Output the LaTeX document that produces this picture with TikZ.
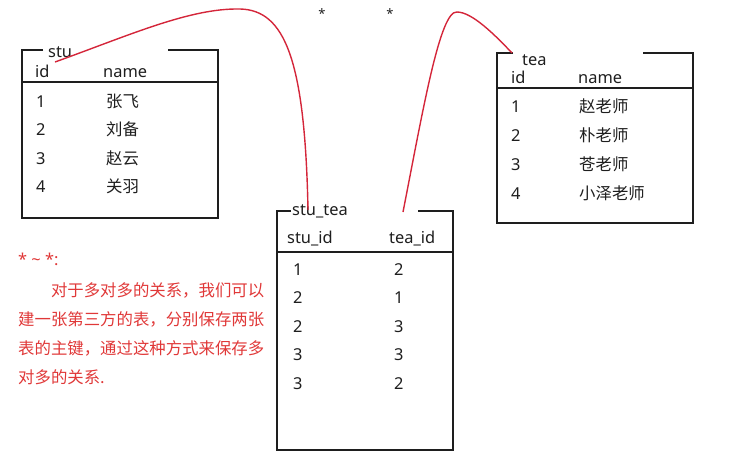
\documentclass[tikz,border=0pt]{standalone}
\usepackage{fontspec}
\setmainfont{Noto Sans}
\newfontfamily\cjk{Noto Sans CJK SC}
\usetikzlibrary{positioning,calc}
\definecolor{linkred}{RGB}{212,38,58}
\definecolor{notered}{RGB}{224,56,56}
\definecolor{ink}{RGB}{30,30,30}

\begin{document}
\begin{tikzpicture}[x=1pt,y=-1pt,
        every node/.style={inner sep=0pt, text=ink,
            font=\fontsize{16.4}{19}\selectfont},
        cell/.style={anchor=base west},
        frame/.style={draw=ink, line width=2pt, line join=miter},
        rule/.style={draw=ink, line width=2pt},
        link/.style={draw=linkred, line width=1.4pt},
        note/.style={text=notered, anchor=base west},
        star/.style={font=\fontsize{13}{15}\selectfont},
    ]
    \useasboundingbox (0,0) rectangle (733,464);

    % stu
    \node[cell] (stu) at (48,57) {stu};
    \draw[frame] (43,50) -- (22,50) -- (22,218) -- (218,218) -- (218,50) -- (168,50);
    \node[cell] (stu-id) at (35,77) {id};
    \node[cell] (stu-name) at (103,77) {name};
    \draw[rule] (22,82) -- (218,82);
    \foreach \n [count=\k] in {张飞,刘备,赵云,关羽} {
        \node[cell] (stu-id-\k) at (36,78.5+28.6*\k) {\k};
        \node[cell] (stu-name-\k) at (106,78.5+28.6*\k) {\cjk \n};
    }

    % tea
    \node[cell] (tea) at (522,65) {tea};
    \draw[frame] (513,53) -- (497,53) -- (497,223) -- (693,223) -- (693,53) -- (643,53);
    \node[cell] (tea-id) at (511,83) {id};
    \node[cell] (tea-name) at (578,83) {name};
    \draw[rule] (497,88) -- (693,88);
    \foreach \n [count=\k] in {赵老师,朴老师,苍老师,小泽老师} {
        \node[cell] (tea-id-\k) at (511,83+29*\k) {\k};
        \node[cell] (tea-name-\k) at (579,83+29*\k) {\cjk \n};
    }

    % stu_tea
    \node[cell] (stutea) at (292,215) {stu\_tea};
    \draw[frame] (291,211) -- (277,211) -- (277,450) -- (453,450) -- (453,211) -- (418,211);
    \node[cell] (stutea-sid) at (287,243) {stu\_id};
    \node[cell] (stutea-tid) at (389,243) {tea\_id};
    \draw[rule] (277,252) -- (453,252);
    \foreach \s/\t [count=\k] in {1/2,2/1,2/3,3/3,3/2} {
        \node[cell] (stutea-s-\k) at (293,246.5+28.5*\k) {\s};
        \node[cell] (stutea-t-\k) at (394,246.5+28.5*\k) {\t};
    }

    % links
    \coordinate (stu-end) at (55,62);
    \coordinate (stutea-s-end) at (308,210);
    \coordinate (stutea-t-end) at (403,212);
    \coordinate (tea-end) at (512,53);
    \draw[link] (stu-end) .. controls (130,35) and (190,8) .. (240,9)
        .. controls (285,10) and (305,60) .. (stutea-s-end);
    \draw[link] (stutea-t-end) .. controls (423,110) and (440,10) .. (457,12)
        .. controls (472,12) and (495,35) .. (tea-end);
    \node[star] (star-l) at (322,14) {*};
    \node[star] (star-r) at (390,14) {*};

    % note
    \node[note] (many) at (18,265) {* \textasciitilde{} *:};
    \node[note, align=left, font=\cjk\fontsize{16.4}{28.7}\selectfont] (explain) at (18,383)
        {　　对于多对多的关系，我们可以\\建一张第三方的表，分别保存两张\\表的主键，通过这种方式来保存多\\对多的关系.};
\end{tikzpicture}
\end{document}
